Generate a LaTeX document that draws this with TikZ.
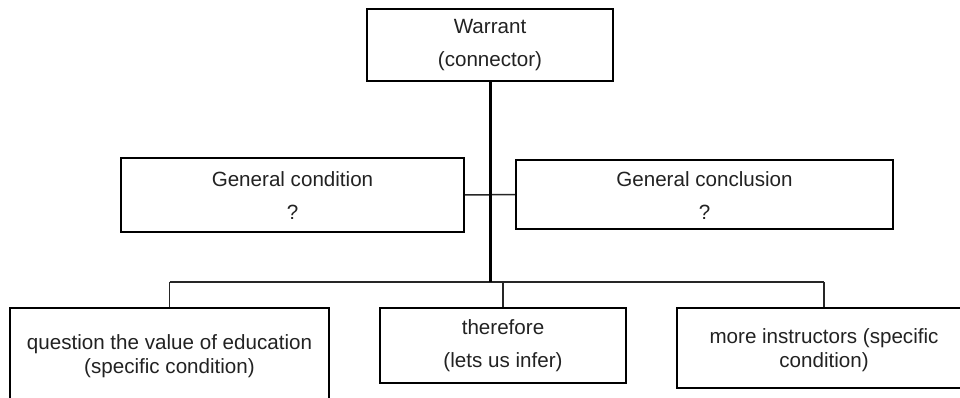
\documentclass[tikz,border=0pt]{standalone}
\usepackage{fontspec}
\setmainfont{Liberation Sans}
\definecolor{txtgray}{HTML}{222222}
\begin{document}
\begin{tikzpicture}[x=1pt,y=-1pt,
  box/.style={draw=black, line width=1.6pt, rectangle, inner sep=0pt},
  wide/.style={font=\fontsize{20.6}{33}\selectfont, text=txtgray, align=center, inner sep=0pt},
  tight/.style={font=\fontsize{20.6}{24}\selectfont, text=txtgray, align=center, inner sep=0pt},
  thick line/.style={line width=3pt, draw=black},
  thin line/.style={line width=1.5pt, draw=black!85}]
\useasboundingbox (0,0) rectangle (960,398);
\clip (0,0) rectangle (960,398);
\fill[white] (0,0) rectangle (960,398);
% boxes
\node[box, minimum width=246pt, minimum height=72pt] (w) at (490,45) {};
\node[box, minimum width=343pt, minimum height=74pt] (gc) at (292.5,195) {};
\node[box, minimum width=377pt, minimum height=69pt] (gk) at (704.5,194.5) {};
\node[box, minimum width=319pt, minimum height=110pt] (q) at (169.5,363) {};
\node[box, minimum width=246pt, minimum height=75pt] (t) at (503,345.5) {};
\node[box, minimum width=294pt, minimum height=80pt] (m) at (824,348) {};
% texts
\node[wide] (wt) at (490,45.5) {Warrant\\(connector)};
\node[wide] (gct) at (292.5,195.5) {General condition\\?};
\node[wide] (gkt) at (704.5,195.5) {General conclusion\\?};
\node[wide] (tt) at (503,346) {therefore\\(lets us infer)};
\node[tight] (qt) at (169.5,356) {question the value of education\\(specific condition)};
\node[tight] (mt) at (824,350) {more instructors (specific\\condition)};
% junctions
\coordinate (hb) at (490,282);
\coordinate (hl) at (q.north |- hb);
\coordinate (hr) at (m.north |- hb);
\coordinate (hm) at (t.north |- hb);
% connectors
\draw[thin line] (gc.east) -- (gk.west);
\draw[thin line] (hl) -- (hr);
\draw[thin line] (hl) -- (q.north);
\draw[thin line] (hr) -- (m.north);
\draw[thin line] (hm) -- (t.north);
\draw[thick line] (w.south) -- (hb);
\end{tikzpicture}
\end{document}
